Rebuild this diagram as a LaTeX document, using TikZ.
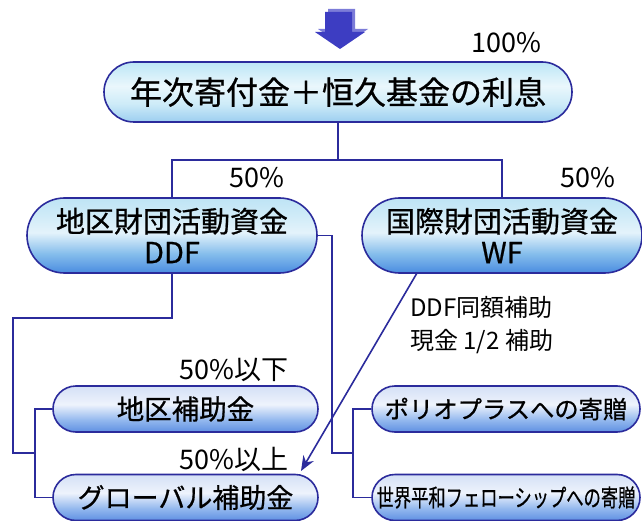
\documentclass[tikz,border=0pt]{standalone}
\usepackage{fontspec}
\setmainfont{Noto Sans CJK JP}
\newfontfamily\boxfont{Noto Sans CJK JP}[FakeBold=0.7]
\usetikzlibrary{arrows.meta}
\definecolor{navy}{HTML}{2B2B9C}
\definecolor{arrblue}{HTML}{3D3DC2}
\definecolor{arrshade}{HTML}{7C7CD8}
\definecolor{tA1}{HTML}{9CCEF0}
\definecolor{tA2}{HTML}{CDEBF8}
\definecolor{tA3}{HTML}{EAF7FC}
\definecolor{tA4}{HTML}{BCE6F6}
\definecolor{mA1}{HTML}{4A8CE0}
\definecolor{mA2}{HTML}{86BEEC}
\definecolor{mA3}{HTML}{E4F3FB}
\definecolor{mA4}{HTML}{D2ECF8}
\definecolor{mA5}{HTML}{BEE4F5}
\definecolor{lA1}{HTML}{5F90E2}
\definecolor{lA2}{HTML}{93B8EE}
\definecolor{lA3}{HTML}{EEF3FC}
\definecolor{lA4}{HTML}{D4E0F6}
\pgfdeclareverticalshading{topshade}{100bp}{color(0bp)=(tA1); color(25bp)=(tA1); color(40bp)=(tA2); color(55bp)=(tA3); color(75bp)=(tA4); color(100bp)=(tA4)}
\pgfdeclareverticalshading{midshade}{100bp}{color(0bp)=(mA1); color(25bp)=(mA1); color(38bp)=(mA2); color(52bp)=(mA3); color(62bp)=(mA4); color(75bp)=(mA5); color(100bp)=(mA5)}
\pgfdeclareverticalshading{lowshade}{100bp}{color(0bp)=(lA1); color(25bp)=(lA1); color(38bp)=(lA2); color(55bp)=(lA3); color(75bp)=(lA4); color(100bp)=(lA4)}
\tikzset{
  capsule/.style={draw=navy, line width=1.6pt, inner sep=0pt, text=black},
  topcap/.style={capsule, shading=topshade, minimum width=468pt, minimum height=60pt, rounded corners=30pt,
    font=\boxfont\fontsize{32pt}{36pt}\selectfont},
  midcap/.style={capsule, shading=midshade, minimum width=#1, minimum height=75pt, rounded corners=37.5pt,
    align=center, font=\boxfont\fontsize{29pt}{31pt}\selectfont},
  lowcap/.style={capsule, shading=lowshade, minimum width=#1, minimum height=46pt, rounded corners=23pt},
  conn/.style={draw=navy, line width=1.6pt},
  pct/.style={inner sep=0pt, font=\fontsize{27pt}{30pt}\selectfont},
}
\begin{document}
\begin{tikzpicture}[x=1pt, y=-1pt]
\useasboundingbox (0,0) rectangle (642,521);
\fill[white] (0,0) rectangle (642,521);
% block arrow with shadow
\fill[arrshade, shift={(3,-3)}] (325,12) -- (352,12) -- (352,32) -- (365,32) -- (340,49) -- (315,32) -- (325,32) -- cycle;
\fill[arrblue] (325,12) -- (352,12) -- (352,32) -- (365,32) -- (340,49) -- (315,32) -- (325,32) -- cycle;
% nodes
\node[topcap] (top) at (338,92) {年次寄付金＋恒久基金の利息};
\node[midcap=290pt] (ddf) at (172,235.5) {地区財団活動資金\\DDF};
\node[midcap=280pt] (wf) at (502,235.5) {国際財団活動資金\\WF};
\node[lowcap=265pt, font=\boxfont\fontsize{27.5pt}{30pt}\selectfont] (chiku) at (185.5,409) {地区補助金};
\node[lowcap=265pt, font=\boxfont\fontsize{27pt}{30pt}\selectfont] (global) at (185.5,497.5) {グローバル補助金};
\node[lowcap=268pt, font=\boxfont\fontsize{24.3pt}{28pt}\selectfont] (polio) at (506,409) {ポリオプラスへの寄贈};
\node[lowcap=268pt, font=\boxfont\fontsize{24pt}{28pt}\selectfont] (sekai) at (506,497.5) {\scalebox{0.72}[1]{世界平和フェローシップへの寄贈}};
% labels
\node[pct] (p100) at (506,43) {100\%};
\node[pct] (p50l) at (257,178) {50\%};
\node[pct] (p50r) at (588,178) {50\%};
\node[pct, anchor=east] (below) at (289,370) {50\%以下};
\node[pct, anchor=east] (above) at (289,459) {50\%以上};
\node[inner sep=0pt, anchor=west, align=left, font=\fontsize{24pt}{33pt}\selectfont] (match) at (410,325.5) {DDF同額補助\\現金 1/2 補助};
% connectors
\coordinate (j) at (338,160);
\draw[conn] (top.south) -- (j);
\draw[conn] (ddf.north) |- (j) -| (wf.north);
\coordinate (l1) at (172,318);
\coordinate (l2) at (13,318);
\coordinate (l3) at (13,453);
\coordinate (l4) at (35,453);
\draw[conn] (ddf.south) -- (l1) -- (l2) -- (l3) -- (l4);
\draw[conn] (chiku.west) -| (l4) |- (global.west);
\coordinate (r1) at (332,235.5);
\coordinate (r2) at (332,453);
\coordinate (r3) at (353,453);
\draw[conn] (ddf.east) -- (r1) -- (r2) -- (r3);
\draw[conn] (polio.west) -| (r3) |- (sekai.west);
\coordinate (a0) at (417,273);
\coordinate (tip) at (301,471);
\draw[conn, -{Stealth[length=15pt, width=12pt]}] (a0) -- (tip);
\end{tikzpicture}
\end{document}
